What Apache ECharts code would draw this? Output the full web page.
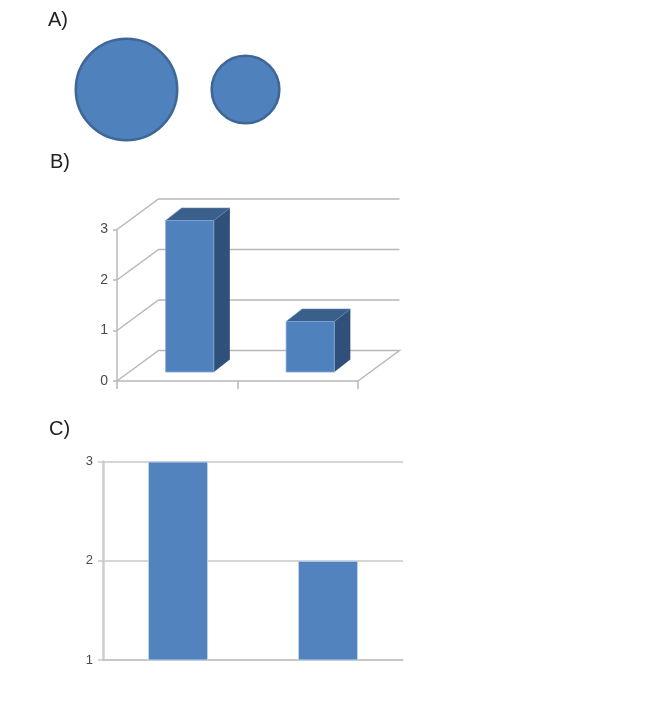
<!DOCTYPE html>
<html><head><meta charset="utf-8">
<style>html,body{margin:0;padding:0;background:#fff}#c{width:650px;height:720px}</style>
<script src="https://cdn.jsdelivr.net/npm/echarts@6/dist/echarts.min.js"></script>
</head><body><div id="c"></div>
<script>
const categories = ['First', 'Second'];
const circleValues = [3, 2];
const bar3dValues = [3, 1];
const barValues = [3, 2];
const bar3dTicks = [0, 1, 2, 3];

const chart = echarts.init(document.getElementById('c'), null, {renderer: 'canvas'});
const FRONT = '#4f81bd', SIDE = '#2f5078', TOP = '#3a5f8b', EDGE = '#7fa8d6';
const AXIS = '#b8b8b8', LABEL = '#4a4a4a';
const DX = 41.5, DY = -30.5;      // depth of the 3D box
const BX = 12.5, BY = -9;         // bar inset from the front of the floor
const BD = 16, BE = -12.5;        // bar depth

function wallItem(params, api) {
  const v = api.value(0);
  const a = api.coord([0, v]);
  const band = api.size([1, 0])[0];
  const x0 = a[0] - band / 2, y = a[1], x1 = x0 + band * 2;
  const ls = {stroke: AXIS, lineWidth: 1.5, fill: null};
  const pts = [[x0, y], [x0 + DX, y + DY], [x1 + DX, y + DY]];
  if (v === 0) pts.push([x1, y]);
  return {type: 'polyline', shape: {points: pts}, style: ls, silent: true};
}
function bar3dItem(params, api) {
  const top = api.coord([api.value(0), api.value(1)]);
  const base = api.coord([api.value(0), 0]);
  const w = api.size([1, 0])[0] * 0.4;
  const l = top[0] + BX - w / 2, r = l + w, b = base[1] + BY, t = top[1] + BY;
  return {type: 'group', children: [
    {type: 'polygon', shape: {points: [[r, t], [r + BD, t + BE], [r + BD, b + BE], [r, b]]}, style: {fill: SIDE}},
    {type: 'polygon', shape: {points: [[l, t], [l + BD, t + BE], [r + BD, t + BE], [r, t]]}, style: {fill: TOP, stroke: '#5d86b5', lineWidth: 0.6}},
    {type: 'rect', shape: {x: l, y: t, width: w, height: b - t}, style: {fill: FRONT, stroke: EDGE, lineWidth: 0.8}}
  ]};
}
const txt = (s, x, y) => ({type: 'text', left: x, top: y, style: {text: s, font: '20px "Liberation Sans"', fill: '#222'}});

chart.setOption({
  animation: false,
  backgroundColor: '#fff',
  graphic: [txt('A)', 48, 10), txt('B)', 50, 152), txt('C)', 49, 419)],
  grid: [
    {left: 67, top: 37, width: 238, height: 105},
    {left: 117, top: 229.5, width: 241, height: 151.5},
    {left: 103, top: 461.5, width: 300, height: 198.5}
  ],
  xAxis: [
    {gridIndex: 0, type: 'category', data: categories, show: false},
    {gridIndex: 1, type: 'category', data: categories, axisLabel: {show: false},
      axisLine: {lineStyle: {color: AXIS, width: 1.5}}, axisTick: {show: true, length: 8, lineStyle: {color: AXIS, width: 1.5}}},
    {gridIndex: 2, type: 'category', data: categories, axisLabel: {show: false},
      axisLine: {lineStyle: {color: '#c4c4c4', width: 1.5}}, axisTick: {show: false}}
  ],
  yAxis: [
    {gridIndex: 0, type: 'category', data: ['row'], show: false},
    {gridIndex: 1, type: 'value', min: 0, max: 3, interval: 1, splitLine: {show: false},
      axisLine: {show: true, lineStyle: {color: AXIS, width: 1.5}},
      axisTick: {show: true, length: 4, lineStyle: {color: AXIS, width: 1.5}},
      axisLabel: {color: LABEL, fontSize: 14, fontFamily: 'Liberation Sans', margin: 9}},
    {gridIndex: 2, type: 'value', min: 1, max: 3, interval: 1,
      splitLine: {show: true, lineStyle: {color: '#c8c8c8', width: 1.5}},
      axisLine: {show: true, lineStyle: {color: '#cccccc', width: 2.5}},
      axisTick: {show: true, length: 5, lineStyle: {color: '#c8c8c8', width: 1.5}},
      axisLabel: {color: LABEL, fontSize: 13, fontFamily: 'Liberation Sans', margin: 10}}
  ],
  series: [
    {type: 'scatter', xAxisIndex: 0, yAxisIndex: 0,
      data: circleValues.map((v, i) => [i, 0, v]),
      symbol: 'circle', symbolSize: d => d[2] * 33.8,
      itemStyle: {color: FRONT, borderColor: '#3f6795', borderWidth: 2.6, opacity: 1}},
    {type: 'custom', xAxisIndex: 1, yAxisIndex: 1, z: 1, clip: false,
      data: bar3dTicks.map(v => [v]), encode: {y: 0}, renderItem: wallItem},
    {type: 'custom', xAxisIndex: 1, yAxisIndex: 1, z: 3, clip: false,
      data: bar3dValues.map((v, i) => [i, v]), encode: {x: 0, y: 1}, renderItem: bar3dItem},
    {type: 'bar', xAxisIndex: 2, yAxisIndex: 2, z: 3, data: barValues, barWidth: '40%',
      itemStyle: {color: '#5283bf', borderColor: '#bcd3ea', borderWidth: 1}}
  ]
});
</script></body></html>
